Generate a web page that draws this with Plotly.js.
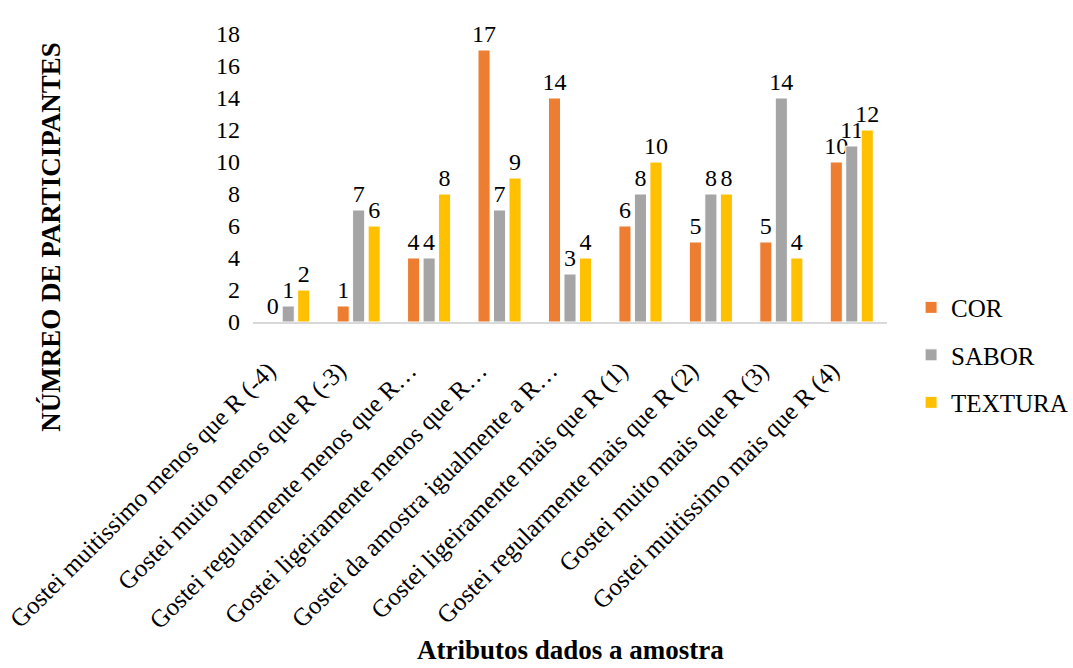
<!DOCTYPE html>
<html>
<head>
<meta charset="utf-8">
<script src="https://cdn.plot.ly/plotly-3.0.1.min.js"></script>
<style>html,body{margin:0;padding:0;background:#fff;}#chart{width:1073px;height:668px;}</style>
</head>
<body>
<div id="chart"></div>
<script>
var categories = [
  "Gostei muitissimo menos que R (-4)",
  "Gostei muito menos que R (-3)",
  "Gostei regularmente menos que R…",
  "Gostei ligeiramente menos que R…",
  "Gostei da amostra igualmente a R…",
  "Gostei ligeiramente mais que R (1)",
  "Gostei regularmente mais que R (2)",
  "Gostei muito mais que R (3)",
  "Gostei muitissimo mais que R (4)"
];
var cor = [0, 1, 4, 17, 14, 6, 5, 5, 10];
var sabor = [1, 7, 4, 7, 3, 8, 8, 14, 11];
var textura = [2, 6, 8, 9, 4, 10, 8, 4, 12];
var seriesNames = ["COR", "SABOR", "TEXTURA"];
var colors = ["#ED7D31", "#A5A5A5", "#FFC000"];
var yTicks = [0, 2, 4, 6, 8, 10, 12, 14, 16, 18];

var FONT = "'Liberation Serif', 'Times New Roman', serif";
var allSeries = [cor, sabor, textura];
var traces = allSeries.map(function(vals, i) {
  return {
    type: "bar",
    name: seriesNames[i],
    legendgroup: seriesNames[i],
    x: categories,
    y: vals,
    text: vals.map(String),
    textposition: "outside",
    constraintext: "none",
    cliponaxis: false,
    textfont: {family: FONT, size: 24, color: "#000"},
    marker: {color: colors[i], line: {color: "#ffffff", width: 1}},
    hoverinfo: "x+y+name"
  };
});

var layout = {
  width: 1073,
  height: 668,
  paper_bgcolor: "#fff",
  plot_bgcolor: "#fff",
  margin: {l: 253, r: 186, t: 34, b: 346, pad: 0, autoexpand: false},
  barmode: "group",
  bargap: 0.34,
  bargroupgap: 0.22,
  font: {family: FONT, size: 24, color: "#000"},
  showlegend: true,
  legend: {
    x: 1.038, xanchor: "left",
    y: -0.115, yanchor: "middle",
    font: {family: FONT, size: 25, color: "#000"},
    tracegroupgap: 12,
    itemwidth: 30
  },
  xaxis: {
    type: "category",
    tickangle: -45,
    showgrid: false,
    showline: true,
    linecolor: "#D9D9D9",
    linewidth: 2,
    ticks: "",
    ticklabelshift: -20,
    ticklabelstandoff: 22,
    tickfont: {family: FONT, size: 25, color: "#000"},
    automargin: false
  },
  yaxis: {
    range: [0, 18],
    tickvals: yTicks,
    ticktext: yTicks.map(String),
    showgrid: false,
    zeroline: false,
    showline: false,
    ticks: "",
    ticklabelstandoff: 12,
    tickfont: {family: FONT, size: 24, color: "#000"},
    automargin: false
  },
  annotations: [
    {
      text: "<b>NÚMREO DE PARTICIPANTES</b>",
      xref: "paper", yref: "paper",
      x: -0.319, y: 0.295,
      xanchor: "center", yanchor: "middle",
      textangle: -90,
      showarrow: false,
      font: {family: FONT, size: 27, color: "#000"}
    },
    {
      text: "<b>Atributos dados a amostra</b>",
      xref: "paper", yref: "paper",
      x: 0.5, y: -1.14,
      xanchor: "center", yanchor: "middle",
      showarrow: false,
      font: {family: FONT, size: 27, color: "#000"}
    }
  ]
};

Plotly.newPlot("chart", traces, layout, {displayModeBar: false, staticPlot: true});
</script>
</body>
</html>
